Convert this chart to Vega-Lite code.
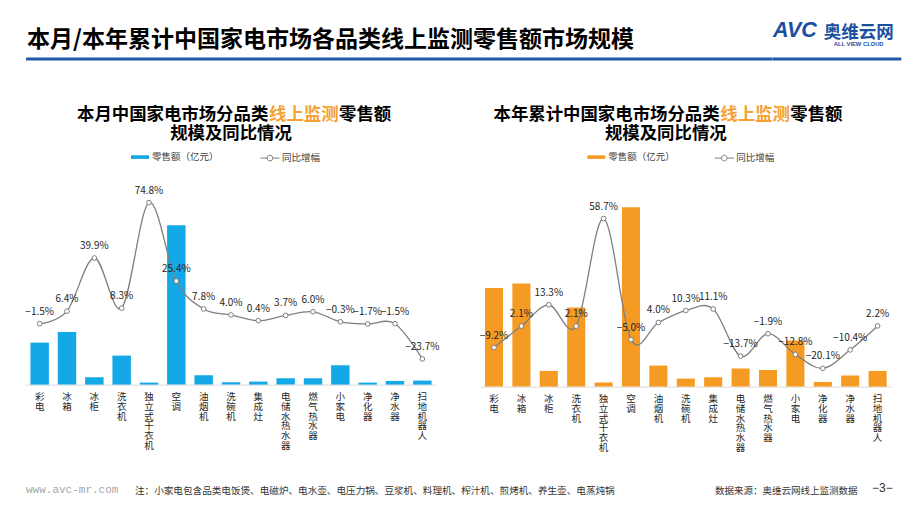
{
  "$schema": "https://vega.github.io/schema/vega-lite/v6.json",
  "padding": {"left": 25, "top": 19.5, "right": 0, "bottom": 0},
  "background": "white",
  "datasets": {
    "month": [
      {"cat": "彩电", "sales": 25.2, "yoy": -0.015},
      {"cat": "冰箱", "sales": 31.6, "yoy": 0.064},
      {"cat": "冰柜", "sales": 4.4, "yoy": 0.399},
      {"cat": "洗衣机", "sales": 17.4, "yoy": 0.083},
      {"cat": "独立式干衣机", "sales": 1.2, "yoy": 0.748},
      {"cat": "空调", "sales": 95.6, "yoy": 0.254},
      {"cat": "油烟机", "sales": 5.6, "yoy": 0.078},
      {"cat": "洗碗机", "sales": 1.4, "yoy": 0.040},
      {"cat": "集成灶", "sales": 1.8, "yoy": 0.004},
      {"cat": "电储水热水器", "sales": 3.8, "yoy": 0.037},
      {"cat": "燃气热水器", "sales": 3.8, "yoy": 0.060},
      {"cat": "小家电", "sales": 11.6, "yoy": -0.003},
      {"cat": "净化器", "sales": 1.2, "yoy": -0.017},
      {"cat": "净水器", "sales": 2.2, "yoy": -0.015},
      {"cat": "扫地机器人", "sales": 2.4, "yoy": -0.237}
    ],
    "ytd": [
      {"cat": "彩电", "sales": 296, "yoy": -0.092},
      {"cat": "冰箱", "sales": 309, "yoy": 0.021},
      {"cat": "冰柜", "sales": 47, "yoy": 0.133},
      {"cat": "洗衣机", "sales": 237, "yoy": 0.021},
      {"cat": "独立式干衣机", "sales": 12, "yoy": 0.587},
      {"cat": "空调", "sales": 538, "yoy": -0.050},
      {"cat": "油烟机", "sales": 63, "yoy": 0.040},
      {"cat": "洗碗机", "sales": 24, "yoy": 0.103},
      {"cat": "集成灶", "sales": 28, "yoy": 0.111},
      {"cat": "电储水热水器", "sales": 54, "yoy": -0.137},
      {"cat": "燃气热水器", "sales": 50, "yoy": -0.019},
      {"cat": "小家电", "sales": 138, "yoy": -0.128},
      {"cat": "净化器", "sales": 14, "yoy": -0.201},
      {"cat": "净水器", "sales": 33, "yoy": -0.104},
      {"cat": "扫地机器人", "sales": 47, "yoy": 0.022}
    ]
  },
  "config": {
    "view": {"stroke": null},
    "font": "Noto Sans CJK SC",
    "title": {"font": "Noto Sans CJK SC", "fontWeight": "bold", "color": "#000000", "offset": 0, "frame": "group"},
    "legend": {"labelFont": "Noto Sans CJK SC", "labelFontSize": 9.5, "labelColor": "#404040", "padding": 0},
    "axis": {"labelFont": "Noto Sans CJK SC"},
    "text": {"font": "Noto Sans CJK SC"}
  },
  "spacing": 41.6,
  "vconcat": [
    {
      "spacing": 0,
      "bounds": "flush",
      "hconcat": [
        {
          "width": 746.7, "height": 3,
          "view": {"fill": "#1f5aa6", "stroke": null},
          "data": {"values": [{}]},
          "mark": "text",
          "encoding": {"text": {"value": ""}},
          "title": {"text": "本月/本年累计中国家电市场各品类线上监测零售额市场规模", "fontSize": 23, "anchor": "start", "offset": 1.5, "dx": 1}
        },
        {
          "width": 50, "height": 3,
          "view": {"fill": "#1f5aa6", "stroke": null},
          "data": {"values": [{}]},
          "mark": "text",
          "encoding": {"text": {"value": ""}},
          "title": {"text": "AVC", "font": "Liberation Sans", "fontStyle": "italic", "fontWeight": "bold", "fontSize": 21.5, "color": "#1a50a0", "anchor": "start", "offset": 11.5}
        },
        {
          "width": 78.3, "height": 3,
          "view": {"fill": "#1f5aa6", "stroke": null},
          "data": {"values": [{}]},
          "mark": "text",
          "encoding": {"text": {"value": ""}},
          "title": {"text": "奥维云网", "fontSize": 17.5, "color": "#1a50a0", "anchor": "middle", "dx": -3.5, "offset": 6,
                    "subtitle": "ALL VIEW CLOUD", "subtitleFont": "Liberation Sans", "subtitleFontSize": 5.8, "subtitleFontWeight": "bold", "subtitleColor": "#1a50a0", "subtitlePadding": 0}
        }
      ]
    },
    {
      "spacing": 29.5,
      "vconcat": [
        {
          "spacing": 39.3,
          "resolve": {"scale": {"color": "independent", "stroke": "independent"}, "legend": {"color": "independent", "stroke": "independent"}},
          "hconcat": [
            {
              "spacing": -14.5,
              "resolve": {"scale": {"color": "independent", "stroke": "independent"}, "legend": {"color": "independent", "stroke": "independent"}},
              "vconcat": [
                {
                  "spacing": 0,
                  "bounds": "flush",
                  "hconcat": [
                    {"width": 242.3, "height": 1, "data": {"values": [{}]}, "mark": "text", "encoding": {"text": {"value": ""}},
                     "title": {"text": "本月中国家电市场分品类", "fontSize": 17.4, "anchor": "end"}},
                    {"width": 69.6, "height": 1, "data": {"values": [{}]}, "mark": "text", "encoding": {"text": {"value": ""}},
                     "title": {"text": "线上监测", "fontSize": 17.4, "anchor": "start", "color": "#f5a133"}},
                    {"width": 52.2, "height": 1, "data": {"values": [{}]}, "mark": "text", "encoding": {"text": {"value": ""}},
                     "title": {"text": "零售额", "fontSize": 17.4, "anchor": "start"}}
                  ]
                },
                {
                  "width": 410, "height": 194,
                  "data": {"name": "month"},
                  "title": {"text": "规模及同比情况", "fontSize": 17.4, "anchor": "middle", "offset": 6},
                  "encoding": {
                    "x": {"field": "cat", "type": "nominal", "sort": null,
                          "scale": {"paddingInner": 0.324, "paddingOuter": 0.162},
                          "axis": {"title": null, "domainColor": "#d9d9d9", "domainWidth": 1, "ticks": false, "grid": false, "labelAngle": 0,
                                   "labelExpr": "split(datum.label, '')", "labelFontSize": 9.5, "labelLineHeight": 9.8, "labelPadding": 7,
                                   "labelColor": "#262626", "labelBaseline": "top", "labelOverlap": false, "labelLimit": 0, "labelBound": false}}
                  },
                  "layer": [
                    {
                      "mark": {"type": "bar"},
                      "encoding": {
                        "y": {"field": "sales", "type": "quantitative", "scale": {"domain": [0, 116.4], "nice": false}, "axis": null},
                        "color": {"datum": "零售额（亿元）", "scale": {"range": ["#14a8e6"]},
                                  "legend": {"orient": "none", "legendX": 105, "legendY": -42.5, "title": null, "symbolType": "M-1,-0.2H1V0.2H-1Z", "symbolSize": 324, "symbolStrokeWidth": 0, "labelOffset": 3}}
                      }
                    },
                    {
                      "mark": {"type": "line", "interpolate": "cardinal", "strokeWidth": 1.3},
                      "encoding": {
                        "y": {"field": "yoy", "type": "quantitative", "scale": {"domain": [-0.399, 0.824], "nice": false, "zero": false}, "axis": null},
                        "stroke": {"datum": "同比增幅", "scale": {"range": ["#7f7f7f"]},
                                   "legend": {"orient": "none", "legendX": 234, "legendY": -42.5, "title": null, "symbolType": "M-1,0H-0.3M0.3,0H1M0.3,0A0.3,0.3,0,1,1,-0.3,0A0.3,0.3,0,1,1,0.3,0", "symbolSize": 361, "symbolStrokeWidth": 1, "symbolFillColor": "#ffffff", "symbolStrokeColor": "#7f7f7f", "labelOffset": 2}}
                      }
                    },
                    {
                      "mark": {"type": "point", "shape": "circle", "filled": false, "fill": "#ffffff", "stroke": "#7f7f7f", "strokeWidth": 1, "size": 22, "opacity": 1},
                      "encoding": {
                        "y": {"field": "yoy", "type": "quantitative", "scale": {"domain": [-0.399, 0.824], "nice": false, "zero": false}, "axis": null}
                      }
                    },
                    {
                      "mark": {"type": "text", "baseline": "bottom", "dy": -7, "fontSize": 10, "color": "#262626"},
                      "encoding": {
                        "y": {"field": "yoy", "type": "quantitative", "scale": {"domain": [-0.399, 0.824], "nice": false, "zero": false}, "axis": null},
                        "text": {"field": "yoy", "type": "quantitative", "format": ".1%"}
                      }
                    }
                  ],
                  "resolve": {"scale": {"y": "independent"}}
                }
              ]
            },
            {
              "spacing": -14.5,
              "resolve": {"scale": {"color": "independent", "stroke": "independent"}, "legend": {"color": "independent", "stroke": "independent"}},
              "vconcat": [
                {
                  "spacing": 0,
                  "bounds": "flush",
                  "hconcat": [
                    {"width": 239.3, "height": 1, "data": {"values": [{}]}, "mark": "text", "encoding": {"text": {"value": ""}},
                     "title": {"text": "本年累计中国家电市场分品类", "fontSize": 17.4, "anchor": "end"}},
                    {"width": 69.6, "height": 1, "data": {"values": [{}]}, "mark": "text", "encoding": {"text": {"value": ""}},
                     "title": {"text": "线上监测", "fontSize": 17.4, "anchor": "start", "color": "#f5a133"}},
                    {"width": 52.2, "height": 1, "data": {"values": [{}]}, "mark": "text", "encoding": {"text": {"value": ""}},
                     "title": {"text": "零售额", "fontSize": 17.4, "anchor": "start"}}
                  ]
                },
                {
                  "width": 411, "height": 196,
                  "data": {"name": "ytd"},
                  "title": {"text": "规模及同比情况", "fontSize": 17.4, "anchor": "middle", "offset": 6, "dx": -20},
                  "encoding": {
                    "x": {"field": "cat", "type": "nominal", "sort": null,
                          "scale": {"paddingInner": 0.34, "paddingOuter": 0.17},
                          "axis": {"title": null, "domainColor": "#d9d9d9", "domainWidth": 1, "ticks": false, "grid": false, "labelAngle": 0,
                                   "labelExpr": "split(datum.label, '')", "labelFontSize": 9.5, "labelLineHeight": 9.8, "labelPadding": 7,
                                   "labelColor": "#262626", "labelBaseline": "top", "labelOverlap": false, "labelLimit": 0, "labelBound": false}}
                  },
                  "layer": [
                    {
                      "mark": {"type": "bar"},
                      "encoding": {
                        "y": {"field": "sales", "type": "quantitative", "scale": {"domain": [0, 588], "nice": false}, "axis": null},
                        "color": {"datum": "零售额（亿元）", "scale": {"range": ["#f59a23"]},
                                  "legend": {"orient": "none", "legendX": 107, "legendY": -42.5, "title": null, "symbolType": "M-1,-0.2H1V0.2H-1Z", "symbolSize": 324, "symbolStrokeWidth": 0, "labelOffset": 3}}
                      }
                    },
                    {
                      "mark": {"type": "line", "interpolate": "cardinal", "strokeWidth": 1.3},
                      "encoding": {
                        "y": {"field": "yoy", "type": "quantitative", "scale": {"domain": [-0.2974, 0.7342], "nice": false, "zero": false}, "axis": null},
                        "stroke": {"datum": "同比增幅", "scale": {"range": ["#7f7f7f"]},
                                   "legend": {"orient": "none", "legendX": 234, "legendY": -42.5, "title": null, "symbolType": "M-1,0H-0.3M0.3,0H1M0.3,0A0.3,0.3,0,1,1,-0.3,0A0.3,0.3,0,1,1,0.3,0", "symbolSize": 361, "symbolStrokeWidth": 1, "symbolFillColor": "#ffffff", "symbolStrokeColor": "#7f7f7f", "labelOffset": 2}}
                      }
                    },
                    {
                      "mark": {"type": "point", "shape": "circle", "filled": false, "fill": "#ffffff", "stroke": "#7f7f7f", "strokeWidth": 1, "size": 22, "opacity": 1},
                      "encoding": {
                        "y": {"field": "yoy", "type": "quantitative", "scale": {"domain": [-0.2974, 0.7342], "nice": false, "zero": false}, "axis": null}
                      }
                    },
                    {
                      "mark": {"type": "text", "baseline": "bottom", "dy": -7, "fontSize": 10, "color": "#262626"},
                      "encoding": {
                        "y": {"field": "yoy", "type": "quantitative", "scale": {"domain": [-0.2974, 0.7342], "nice": false, "zero": false}, "axis": null},
                        "text": {"field": "yoy", "type": "quantitative", "format": ".1%"}
                      }
                    }
                  ],
                  "resolve": {"scale": {"y": "independent"}}
                }
              ]
            }
          ]
        },
        {
          "spacing": 0,
          "bounds": "flush",
          "hconcat": [
            {"width": 108.3, "height": 1, "data": {"values": [{}]}, "mark": "text", "encoding": {"text": {"value": ""}},
             "title": {"text": "www.avc-mr.com", "font": "Liberation Mono", "fontWeight": "normal", "fontSize": 11, "color": "#a6a6a6", "anchor": "start"}},
            {"width": 580, "height": 1, "data": {"values": [{}]}, "mark": "text", "encoding": {"text": {"value": ""}},
             "title": {"text": "注：小家电包含品类电饭煲、电磁炉、电水壶、电压力锅、豆浆机、料理机、榨汁机、煎烤机、养生壶、电蒸炖锅", "fontWeight": "normal", "fontSize": 9.6, "color": "#333333", "anchor": "start"}},
            {"width": 156.7, "height": 1, "data": {"values": [{}]}, "mark": "text", "encoding": {"text": {"value": ""}},
             "title": {"text": "数据来源：奥维云网线上监测数据", "fontWeight": "normal", "fontSize": 9.5, "color": "#333333", "anchor": "start"}},
            {"width": 25, "height": 1, "data": {"values": [{}]}, "mark": "text", "encoding": {"text": {"value": ""}},
             "title": {"text": "−3−", "font": "Liberation Sans", "fontWeight": "normal", "fontSize": 12, "color": "#333333", "anchor": "start"}}
          ]
        }
      ]
    }
  ]
}
